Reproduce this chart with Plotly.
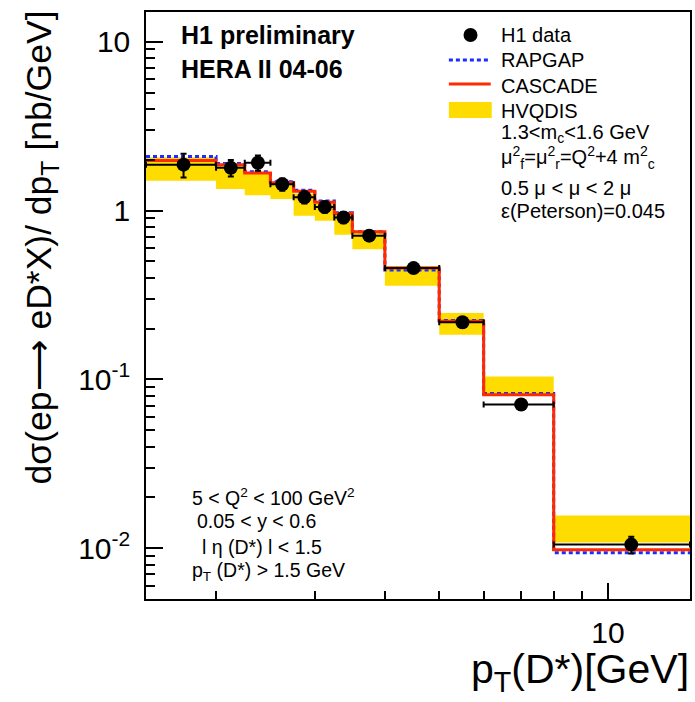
import plotly.graph_objects as go

# ---- data ----
pt_edges = [1.5, 2.0, 2.25, 2.5, 2.75, 3.0, 3.25, 3.5, 4.0, 5.0, 6.0, 8.0, 14.0]
h1_data = [1.87, 1.79, 1.92, 1.43, 1.20, 1.05, 0.91, 0.71, 0.456, 0.218, 0.071, 0.0105]
h1_err = [0.30, 0.20, 0.20, 0.12, 0.10, 0.08, 0.07, 0.05, 0.03, 0.015, 0.005, 0.0012]
cascade = [1.98, 1.87, 1.67, 1.46, 1.30, 1.12, 0.96, 0.75, 0.456, 0.221, 0.081, 0.0098]
rapgap = [2.09, 1.90, 1.70, 1.48, 1.32, 1.14, 0.97, 0.75, 0.445, 0.223, 0.0825, 0.0094]
hvqdis_lo = [1.50, 1.34, 1.23, 1.17, 0.93, 0.87, 0.72, 0.59, 0.358, 0.184, 0.0796, 0.0108]
hvqdis_hi = [2.07, 1.87, 1.67, 1.45, 1.26, 1.10, 0.96, 0.75, 0.47, 0.247, 0.104, 0.0156]

y_tickvals = [0.01, 0.1, 1, 10]
y_ticktext = ["10<sup>-2</sup>", "10<sup>-1</sup>", "1", "10"]
x_tickvals = [10]
x_ticktext = ["10"]

FONT = "Liberation Sans, Arial, Helvetica, sans-serif"
RED = "#FF2A00"
BLUE = "#1A2EFF"
GOLD = "#FFDC00"

lo_e = pt_edges[:-1]
hi_e = pt_edges[1:]
centers = [(a + b) / 2 for a, b in zip(lo_e, hi_e)]
xerr_p = [b - c for b, c in zip(hi_e, centers)]
xerr_m = [c - a for a, c in zip(lo_e, centers)]


def step(vals):
    return list(vals) + [vals[-1]]


fig = go.Figure()
fig.add_trace(go.Scatter(x=pt_edges, y=step(hvqdis_lo), mode="lines", line_shape="hv",
                         line=dict(width=0, color=GOLD), showlegend=False, hoverinfo="skip"))
fig.add_trace(go.Scatter(x=pt_edges, y=step(hvqdis_hi), mode="lines", line_shape="hv",
                         line=dict(width=0, color=GOLD), fill="tonexty", fillcolor=GOLD,
                         showlegend=False, name="HVQDIS"))
fig.add_trace(go.Scatter(x=pt_edges, y=step(rapgap), mode="lines", line_shape="hv",
                         line=dict(width=3, color=BLUE, dash="4px,3px"), showlegend=False, name="RAPGAP"))
fig.add_trace(go.Scatter(x=pt_edges, y=step(cascade), mode="lines", line_shape="hv",
                         line=dict(width=3, color=RED), showlegend=False, name="CASCADE"))
fig.add_trace(go.Scatter(x=centers, y=h1_data, mode="markers",
                         marker=dict(size=14, color="black", symbol="circle"),
                         error_y=dict(type="data", array=h1_err, color="black", thickness=2, width=3),
                         error_x=dict(type="data", array=xerr_p, arrayminus=xerr_m, color="black",
                                      thickness=2, width=3),
                         showlegend=False, name="H1 data"))

L, R, T, B = 146, 3, 12, 103
W, H = 695, 702
PW, PH = W - L - R, H - T - B


def px(x):
    return (x - L) / PW


def py(y):
    return (H - B - y) / PH


shapes = []
# legend symbols
r = 7
shapes.append(dict(type="circle", xref="paper", yref="paper", x0=px(471.7 - r), x1=px(471.7 + r),
                   y0=py(35 + r), y1=py(35 - r), fillcolor="black", line=dict(width=0)))
shapes.append(dict(type="line", xref="paper", yref="paper", x0=px(450), x1=px(492), y0=py(60), y1=py(60),
                   line=dict(color=BLUE, width=3, dash="4px,3px")))
shapes.append(dict(type="line", xref="paper", yref="paper", x0=px(450), x1=px(492), y0=py(84), y1=py(84),
                   line=dict(color=RED, width=3)))
shapes.append(dict(type="rect", xref="paper", yref="paper", x0=px(450), x1=px(493), y0=py(118), y1=py(102),
                   fillcolor=GOLD, line=dict(width=0)))

ann = []


def text(x, y, s, size=20, bold=False, anchor="left"):
    ann.append(dict(x=px(x), y=py(y), xref="paper", yref="paper", text=s, showarrow=False,
                    xanchor=anchor, yanchor="middle",
                    font=dict(family=FONT, size=size, color="black",
                              weight="bold" if bold else "normal")))


text(179, 35, "H1 preliminary", size=25, bold=True)
text(179, 69, "HERA II 04-06", size=25, bold=True)
text(500, 35, "H1 data")
text(500, 60, "RAPGAP")
text(500, 86, "CASCADE")
text(500, 111, "HVQDIS")
text(500, 133, "1.3&lt;m<sub>c</sub>&lt;1.6 GeV")
text(500, 158, "μ<sup>2</sup><sub>f</sub>=μ<sup>2</sup><sub>r</sub>=Q<sup>2</sup>+4 m<sup>2</sup><sub>c</sub>")
text(500, 188, "0.5 μ &lt; μ &lt; 2 μ")
text(500, 211, "ε(Peterson)=0.045")

text(190, 497, "5 &lt; Q<sup>2</sup> &lt; 100 GeV<sup>2</sup>", size=19.5)
text(195, 521, "0.05 &lt; y &lt; 0.6", size=19.5)
text(200, 547, "l η (D*) l &lt; 1.5", size=19.5)
text(190, 571, "p<sub>T</sub> (D*) &gt; 1.5 GeV", size=19.5)

# axis titles
ann.append(dict(x=px(41), y=py(8), xref="paper", yref="paper", textangle=-90,
                text="dσ(ep⟶ eD*X)/ dp<sub>T</sub> [nb/GeV]", showarrow=False,
                xanchor="center", yanchor="top", font=dict(family=FONT, size=35.5, color="black")))
ann.append(dict(x=px(693), y=py(700), xref="paper", yref="paper",
                text="p<sub>T</sub>(D*)[GeV]", showarrow=False,
                xanchor="right", yanchor="bottom", font=dict(family=FONT, size=41, color="black")))

x_minor = [2, 3, 4, 5, 6, 7, 8, 9]
y_minor = [m * 10 ** k for k in (-3, -2, -1, 0) for m in range(2, 10)]
y_minor = [v for v in y_minor if 0.005 <= v <= 15]

fig.update_layout(
    width=W, height=H,
    margin=dict(l=L, r=R, t=T, b=B),
    plot_bgcolor="white", paper_bgcolor="white",
    shapes=shapes, annotations=ann,
    font=dict(family=FONT, color="black"),
    xaxis=dict(type="log", range=[0.17609, 1.14613], showgrid=False, zeroline=False,
               showline=True, linecolor="black", linewidth=1.5, mirror=True,
               ticks="inside", ticklen=16, tickwidth=1.5, tickcolor="black",
               tickmode="array", tickvals=x_tickvals, ticktext=x_ticktext,
               tickfont=dict(family=FONT, size=30), ticklabelstandoff=6,
               minor=dict(tickmode="array", tickvals=x_minor, ticks="inside", ticklen=8,
                          tickwidth=1.5, tickcolor="black", showgrid=False)),
    yaxis=dict(type="log", range=[-2.30103, 1.17609], showgrid=False, zeroline=False,
               showline=True, linecolor="black", linewidth=1.5, mirror=True,
               ticks="inside", ticklen=17, tickwidth=1.5, tickcolor="black",
               tickmode="array", tickvals=y_tickvals, ticktext=y_ticktext,
               tickfont=dict(family=FONT, size=30), ticklabelstandoff=8,
               minor=dict(tickmode="array", tickvals=y_minor, ticks="inside", ticklen=9,
                          tickwidth=1.5, tickcolor="black", showgrid=False)),
)

fig.write_html("out.html")
